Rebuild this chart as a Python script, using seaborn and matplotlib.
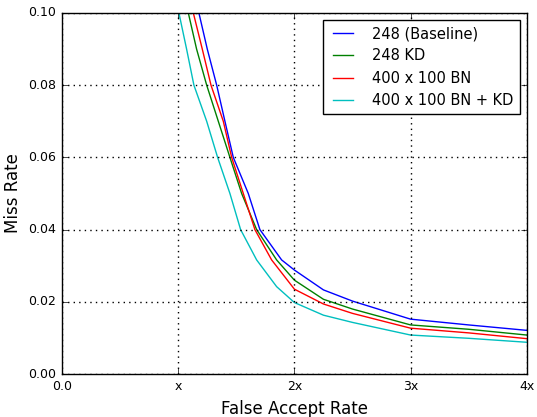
import numpy as np
import pandas as pd
import matplotlib
matplotlib.use("Agg")
import matplotlib.pyplot as plt
import seaborn as sns

# values (x in units of the base FAR "x")
labels = ["248 (Baseline)", "248 KD", "400 x 100 BN", "400 x 100 BN + KD"]

base_far = [1.14, 1.178, 1.25, 1.331, 1.402, 1.474, 1.603, 1.703, 1.89, 2.0, 2.25, 2.5, 3.0, 3.5, 4.0]
base_miss = [0.105, 0.1, 0.09, 0.08, 0.07, 0.06, 0.05, 0.04, 0.0316, 0.0288, 0.0233, 0.0202, 0.0152, 0.0136, 0.0121]

kd_far = [1.05, 1.087, 1.158, 1.245, 1.345, 1.445, 1.546, 1.675, 1.847, 2.0, 2.25, 2.5, 3.0, 3.5, 4.0]
kd_miss = [0.105, 0.1, 0.09, 0.08, 0.07, 0.06, 0.05, 0.04, 0.0316, 0.026, 0.0207, 0.018, 0.0136, 0.0124, 0.0108]

bn_far = [1.09, 1.13, 1.207, 1.282, 1.388, 1.46, 1.56, 1.66, 1.804, 2.0, 2.25, 2.5, 3.0, 3.5, 4.0]
bn_miss = [0.105, 0.1, 0.09, 0.08, 0.07, 0.06, 0.05, 0.04, 0.0316, 0.0235, 0.0194, 0.0168, 0.0127, 0.0114, 0.0098]

bnkd_far = [0.97, 1.006, 1.072, 1.135, 1.245, 1.339, 1.445, 1.537, 1.675, 1.847, 2.0, 2.25, 2.5, 3.0, 3.5, 4.0]
bnkd_miss = [0.105, 0.1, 0.09, 0.08, 0.07, 0.06, 0.05, 0.04, 0.0316, 0.0242, 0.0198, 0.0163, 0.0143, 0.0108, 0.0099, 0.0088]

x_ticks = [0, 1, 2, 3, 4]
x_ticklabels = ["0.0", "x", "2x", "3x", "4x"]

frames = []
for name, xs, ys in zip(labels,
                        [base_far, kd_far, bn_far, bnkd_far],
                        [base_miss, kd_miss, bn_miss, bnkd_miss]):
    frames.append(pd.DataFrame({"far": xs, "miss": ys, "model": name}))
df = pd.concat(frames, ignore_index=True)

plt.style.use("classic")
palette = dict(zip(labels, ["#0000ff", "#008000", "#ff0000", "#00bfbf"]))

fig, ax = plt.subplots(figsize=(5.37, 4.17), dpi=100)
fig.subplots_adjust(left=0.1155, right=0.981, top=0.969, bottom=0.103)

sns.lineplot(data=df, x="far", y="miss", hue="model", palette=palette,
             estimator=None, sort=False, linewidth=1.0, ax=ax)

ax.set_xlim(0, 4)
ax.set_ylim(0, 0.1)
ax.set_xticks(x_ticks)
ax.set_xticklabels(x_ticklabels)
ax.set_yticks(np.arange(0, 0.101, 0.02))
ax.yaxis.set_major_formatter(matplotlib.ticker.FormatStrFormatter("%.2f"))
ax.tick_params(labelsize=9)
ax.grid(True, color="k", linestyle=":", linewidth=1.0)
ax.set_xlabel("False Accept Rate", fontsize=12)
ax.set_ylabel("Miss Rate", fontsize=12)

leg = ax.legend(loc="upper right", fontsize=10.5, handlelength=2.0,
                handletextpad=1.0, frameon=True, fancybox=False)
leg.get_frame().set_edgecolor("k")

fig.savefig("out.png", dpi=100)
